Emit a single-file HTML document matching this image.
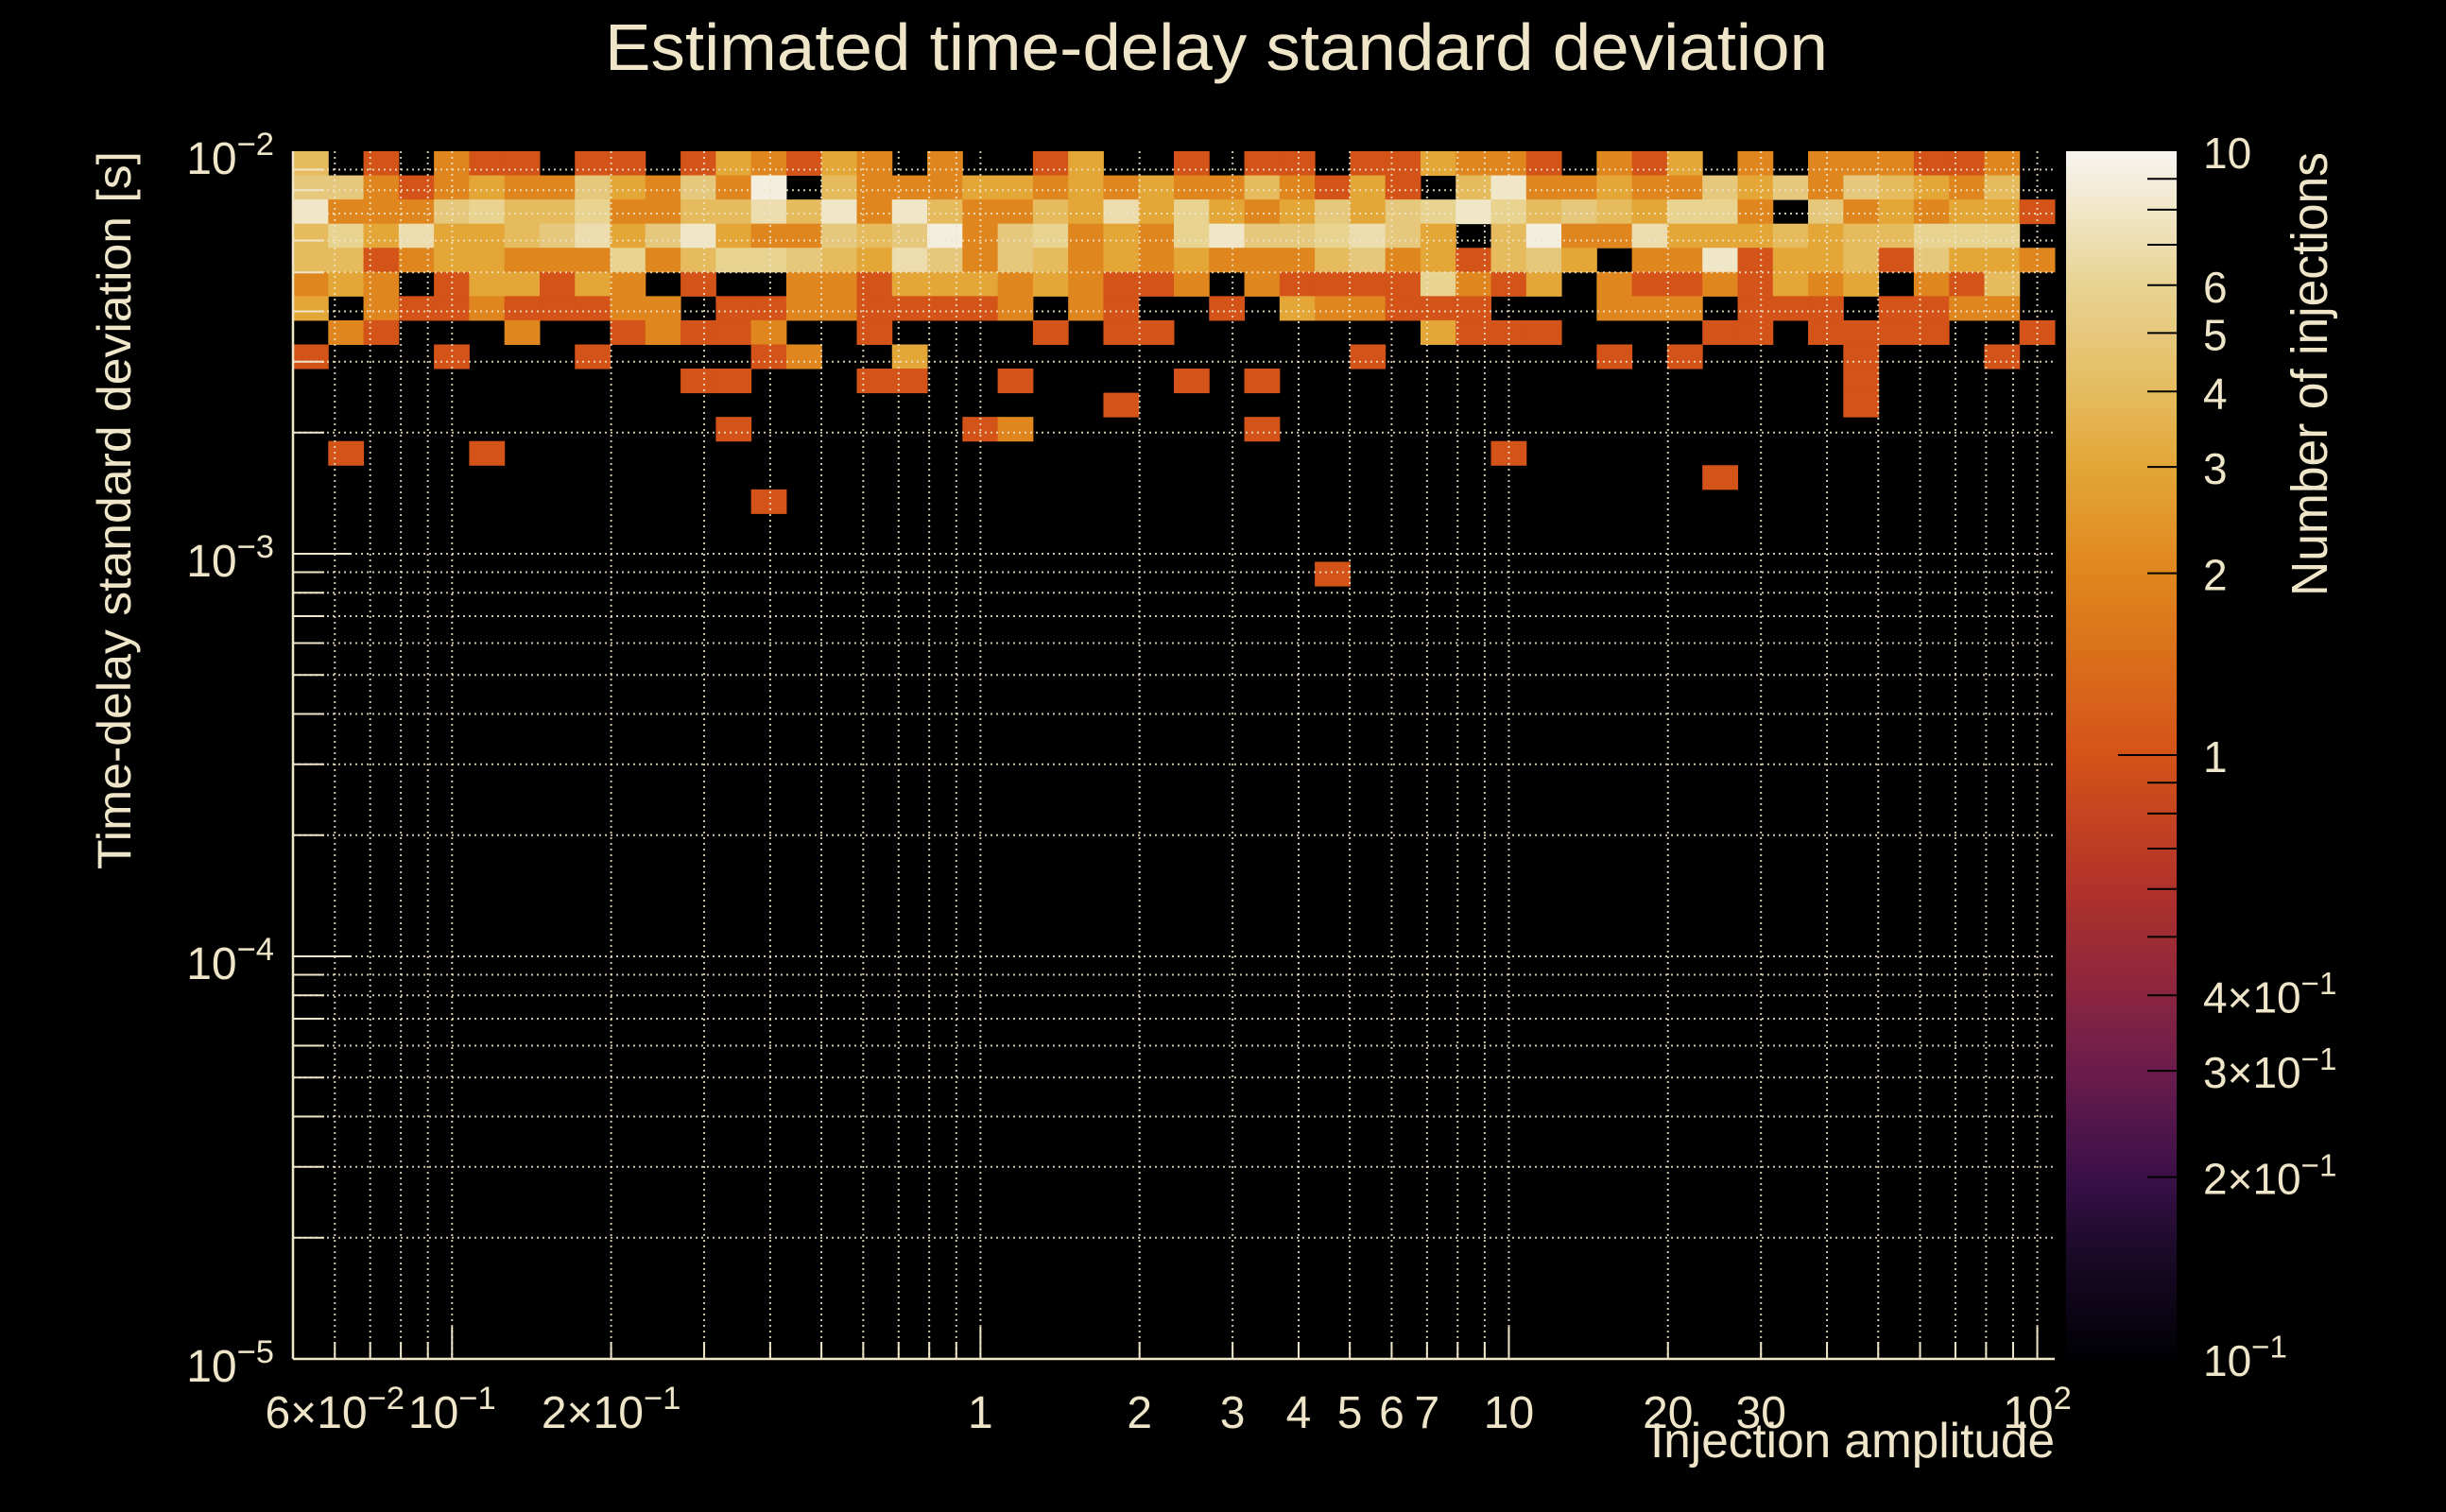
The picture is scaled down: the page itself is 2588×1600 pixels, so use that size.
<!DOCTYPE html>
<html><head><meta charset="utf-8"><style>
html,body{margin:0;padding:0;background:#000;}
svg{display:block;font-family:"Liberation Sans",sans-serif;}
</style></head><body>
<svg id="chart" width="2588" height="1600" viewBox="0 0 2588 1600" xmlns="http://www.w3.org/2000/svg">
<rect width="2588" height="1600" fill="#000"/>
<text x="1287" y="74" fill="#efe5c8" font-size="70" text-anchor="middle" textLength="1294" lengthAdjust="spacingAndGlyphs">Estimated time-delay standard deviation</text>
<g id="cells"></g>
<g id="grid"></g>
<g id="axes"></g>
<g id="cbar"></g>
<text transform="translate(138,920) rotate(-90)" fill="#efe5c8" font-size="50" textLength="760" lengthAdjust="spacingAndGlyphs">Time-delay standard deviation [s]</text>
<text x="2174" y="1542" fill="#efe5c8" font-size="52" text-anchor="end" textLength="428" lengthAdjust="spacingAndGlyphs">Injection amplitude</text>
<text transform="translate(2462,161) rotate(-90)" fill="#efe5c8" font-size="54" text-anchor="end" textLength="470" lengthAdjust="spacingAndGlyphs">Number of injections</text>
</svg>
<script>
// ---- data ----
const xLogMin = -1.301, xLogMax = 2.033;   // injection amplitude range (log10)
const yLogMin = -5, yLogMax = -2;          // time-delay std range (log10)
const nCols = 50, nRows = 50;
// counts per row, top row (highest time-delay bin) first
const row0 = [4,0,1,0,2,1,1,0,1,1,0,1,3, 2,1,3,2,0,2,0,0,1,3,0,0,1, 0,1,1,0,1,1,3,2,2,1,0,2, 1,3,0,2,0,2,2,2,1,1,2,0];
const row1 = [5,5,2,1,2,3,2,2,5,3,2,5,2, 9,0,4,2,2,2,3,3,2,3,2,3,2, 2,4,2,1,3,1,0,4,8,2,2,3, 2,2,5,3,5,2,5,4,3,2,4,0];
const row2 = [8,2,2,2,5,6,4,4,6,2,2,4,4, 7,4,8,2,8,4,2,2,4,3,7,3,6, 3,2,3,5,3,5,6,8,6,4,5,4, 3,6,6,2,0,5,2,3,2,3,3,1];
const row3 = [4,6,3,7,3,3,4,5,7,3,5,8,3, 2,2,5,4,5,9,2,5,6,2,3,2,6, 8,5,5,6,7,5,3,0,4,9,2,2, 7,3,3,3,4,3,4,4,6,6,6,0];
const row4 = [4,4,1,2,3,3,2,2,2,6,2,4,6, 6,5,4,3,7,5,2,5,4,2,3,2,3, 2,2,2,4,5,2,3,1,4,5,3,0, 2,2,8,1,3,3,4,1,5,3,3,2];
const row5 = [2,3,2,0,1,3,3,1,3,2,0,1,0, 0,2,2,1,3,3,3,2,3,2,1,1,2, 0,2,1,1,1,1,6,2,1,3,0,2, 1,1,2,1,3,2,3,0,2,1,4,0];
const row6 = [3,0,2,1,1,2,1,1,1,2,2,0,1, 1,2,2,1,1,1,1,2,0,2,1,0,0, 1,0,3,2,2,1,1,1,0,0,0,2, 2,2,0,1,1,1,0,1,1,2,2,0];
const row7 = [0,2,1,0,0,0,2,0,0,1,2,1,1, 2,0,0,1,0,0,0,0,1,0,1,1,0, 0,0,0,0,0,0,3,1,1,1,0,0, 0,0,1,1,0,1,1,1,1,0,0,1];
const row8 = [1,0,0,0,1,0,0,0,1,0,0,0,0, 1,2,0,0,3,0,0,0,0,0,0,0,0, 0,0,0,0,1,0,0,0,0,0,0,1, 0,1,0,0,0,0,1,0,0,0,1,0];
const row9 = [0,0,0,0,0,0,0,0,0,0,0,1,1, 0,0,0,1,1,0,0,1,0,0,0,0,1, 0,1,0,0,0,0,0,0,0,0,0,0, 0,0,0,0,0,0,1,0,0,0,0,0];
const row10= [0,0,0,0,0,0,0,0,0,0,0,0,0, 0,0,0,0,0,0,0,0,0,0,1,0,0, 0,0,0,0,0,0,0,0,0,0,0,0, 0,0,0,0,0,0,1,0,0,0,0,0];
const row11= [0,0,0,0,0,0,0,0,0,0,0,0,1, 0,0,0,0,0,0,1,2,0,0,0,0,0, 0,1,0,0,0,0,0,0,0,0,0,0, 0,0,0,0,0,0,0,0,0,0,0,0];
const row12= [0,1,0,0,0,1,0,0,0,0,0,0,0, 0,0,0,0,0,0,0,0,0,0,0,0,0, 0,0,0,0,0,0,0,0,1,0,0,0, 0,0,0,0,0,0,0,0,0,0,0,0];
const row13= [0,0,0,0,0,0,0,0,0,0,0,0,0, 0,0,0,0,0,0,0,0,0,0,0,0,0, 0,0,0,0,0,0,0,0,0,0,0,0, 0,0,1,0,0,0,0,0,0,0,0,0];
const row14= [0,0,0,0,0,0,0,0,0,0,0,0,0, 1,0,0,0,0,0,0,0,0,0,0,0,0, 0,0,0,0,0,0,0,0,0,0,0,0, 0,0,0,0,0,0,0,0,0,0,0,0];
const row15= [0,0,0,0,0,0,0,0,0,0,0,0,0, 0,0,0,0,0,0,0,0,0,0,0,0,0, 0,0,0,0,0,0,0,0,0,0,0,0, 0,0,0,0,0,0,0,0,0,0,0,0];
const row16= [0,0,0,0,0,0,0,0,0,0,0,0,0, 0,0,0,0,0,0,0,0,0,0,0,0,0, 0,0,0,0,0,0,0,0,0,0,0,0, 0,0,0,0,0,0,0,0,0,0,0,0];
const row17= [0,0,0,0,0,0,0,0,0,0,0,0,0, 0,0,0,0,0,0,0,0,0,0,0,0,0, 0,0,0,1,0,0,0,0,0,0,0,0, 0,0,0,0,0,0,0,0,0,0,0,0];
const countRows = [row0,row1,row2,row3,row4,row5,row6,row7,row8,row9,row10,row11,row12,row13,row14,row15,row16,row17];
const xTickValues = [0.06,0.1,0.2,1,2,3,4,5,6,7,10,20,30,100];
const xTickLabels = ["6×10^-2","10^-1","2×10^-1","1","2","3","4","5","6","7","10","20","30","10^2"];
const yTickValues = [1e-2,1e-3,1e-4,1e-5];
const yTickLabels = ["10^-2","10^-3","10^-4","10^-5"];
const zTickValues = [10,6,5,4,3,2,1,0.4,0.3,0.2,0.1];
const zTickLabels = ["10","6","5","4","3","2","1","4×10^-1","3×10^-1","2×10^-1","10^-1"];

// ---- layout ----
const PL=310, PR=2174, PT=160, PB=1438;
const CBL=2186, CBR=2303;
const INK="#efe5c8";
const NS="http://www.w3.org/2000/svg";
function xs(v){return PL+(Math.log10(v)-xLogMin)/(xLogMax-xLogMin)*(PR-PL);}
function ys(v){return PB-(Math.log10(v)-yLogMin)/(yLogMax-yLogMin)*(PB-PT);}
function zs(v){return PB-(Math.log10(v)+1)/2*(PB-PT);}
const stops=[[0.1,[0,0,4]],[0.15,[26,10,40]],[0.2,[58,16,72]],[0.3,[106,28,76]],[0.4,[138,37,64]],[0.6,[176,50,42]],[1,[212,83,24]],[2,[224,134,30]],[3,[227,166,55]],[4,[229,187,94]],[5,[230,200,124]],[6,[232,211,145]],[10,[247,245,242]]];
function col(v){
  const l=Math.log10(Math.max(0.1,Math.min(10,v)));
  for(let i=0;i<stops.length-1;i++){
    const a=Math.log10(stops[i][0]),b=Math.log10(stops[i+1][0]);
    if(l<=b){const t=(l-a)/(b-a);const c=stops[i][1].map((q,k)=>Math.round(q+(stops[i+1][1][k]-q)*t));return "rgb("+c.join(",")+")";}
  }
  return "rgb(247,245,242)";
}
function mk(tag,attrs,parent){const e=document.createElementNS(NS,tag);for(const k in attrs)e.setAttribute(k,attrs[k]);parent.appendChild(e);return e;}
function sup(parent,x,y,label,size,anchor){
  const t=mk("text",{x:x,y:y,fill:INK,"font-size":size,"text-anchor":anchor},parent);
  const parts=label.split("^");
  const a=document.createElementNS(NS,"tspan");a.textContent=parts[0];t.appendChild(a);
  if(parts.length>1){const b=document.createElementNS(NS,"tspan");b.setAttribute("dy",-size*0.42);b.setAttribute("font-size",size*0.72);b.textContent=parts[1].replace("-","−");t.appendChild(b);}
  return t;
}
// cells
const gc=document.getElementById("cells");
countRows.forEach((row,r)=>{
  row.forEach((v,c)=>{
    if(v<=0)return;
    const lx0=xLogMin+c*(xLogMax-xLogMin)/nCols, lx1=xLogMin+(c+1)*(xLogMax-xLogMin)/nCols;
    const ly1=yLogMax-r*(yLogMax-yLogMin)/nRows, ly0=yLogMax-(r+1)*(yLogMax-yLogMin)/nRows;
    const x0=xs(Math.pow(10,lx0)),x1=xs(Math.pow(10,lx1)),y0=ys(Math.pow(10,ly1)),y1=ys(Math.pow(10,ly0));
    const e=mk("rect",{x:x0,y:y0,width:x1-x0+0.5,height:y1-y0+0.5,fill:col(v)},gc);
    
    
  });
});
// grid
const gg=document.getElementById("grid");
const xGrid=[];for(let d=-2;d<=2;d++)for(let m=1;m<=9;m++){const v=m*Math.pow(10,d);const l=Math.log10(v);if(l>xLogMin+0.001&&l<xLogMax)xGrid.push(v);}
const yGrid=[];for(let d=-5;d<=-3;d++)for(let m=1;m<=9;m++){const v=m*Math.pow(10,d);const l=Math.log10(v);if(l>yLogMin+0.001&&l<=yLogMax+0.001)yGrid.push(v);}
xGrid.forEach(v=>{const x=xs(v);const e=mk("line",{x1:x,x2:x,y1:PT,y2:PB,stroke:INK,"stroke-width":2,"stroke-dasharray":"2 4",opacity:0.85},gg);
  
  const major=Math.abs(Math.log10(v)-Math.round(Math.log10(v)))<1e-6;
  const t=mk("line",{x1:x,x2:x,y1:PB,y2:PB-(major?34:18),stroke:INK,"stroke-width":2},gg);
  });
yGrid.forEach(v=>{const y=ys(v);const e=mk("line",{x1:PL,x2:PR,y1:y,y2:y,stroke:INK,"stroke-width":2,"stroke-dasharray":"2 4",opacity:0.85},gg);
  
  const major=Math.abs(Math.log10(v)-Math.round(Math.log10(v)))<1e-6;
  const t=mk("line",{x1:PL,x2:PL+(major?62:33),y1:y,y2:y,stroke:INK,"stroke-width":2},gg);
  });
// axes
const ga=document.getElementById("axes");
let e1=mk("line",{x1:PL,x2:PL,y1:PT,y2:PB,stroke:INK,"stroke-width":2.5},ga);

let e2=mk("line",{x1:PL,x2:PR,y1:PB,y2:PB,stroke:INK,"stroke-width":2.5},ga);

xTickValues.forEach((v,i)=>{let x=xs(v);const t=sup(ga,x,1511,xTickLabels[i],48,"middle");
  });
yTickValues.forEach((v,i)=>{const t=sup(ga,290,ys(v)+24,yTickLabels[i],48,"end");
  });
// colorbar
const gb=document.getElementById("cbar");
const N=160;
for(let i=0;i<N;i++){const l0=-1+2*i/N,l1=-1+2*(i+1)/N;const y0=zs(Math.pow(10,l1)),y1=zs(Math.pow(10,l0));
  const e=mk("rect",{x:CBL,y:y0,width:CBR-CBL,height:y1-y0+0.6,fill:col(Math.pow(10,(l0+l1)/2))},gb);
  }
const zMinor=[0.2,0.3,0.4,0.5,0.6,0.7,0.8,0.9,1,2,3,4,5,6,7,8,9];
zMinor.forEach(v=>{const y=zs(v);const e=mk("line",{x1:CBR-(v===1?62:31),x2:CBR,y1:y,y2:y,stroke:"#000","stroke-width":2},gb);
  });
zTickValues.forEach((v,i)=>{const t=sup(gb,2331,zs(v)+18,zTickLabels[i],46,"start");
  });
</script>
</body></html>
